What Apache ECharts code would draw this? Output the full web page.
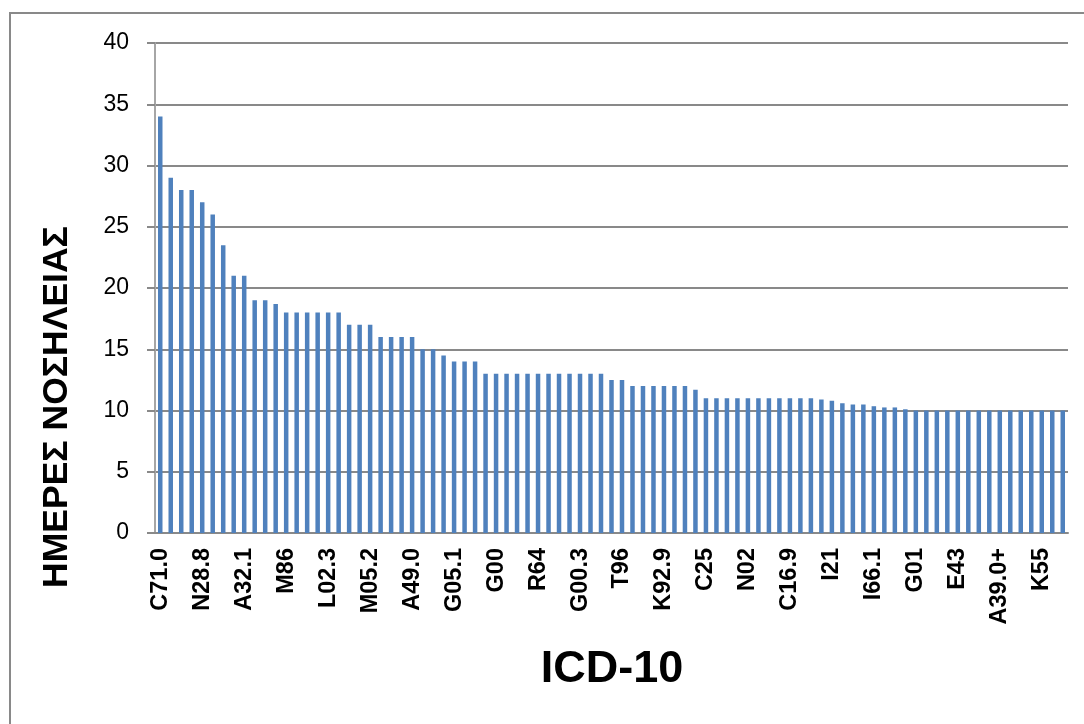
<!DOCTYPE html>
<html>
<head>
<meta charset="utf-8">
<script src="https://cdn.jsdelivr.net/npm/echarts@6/dist/echarts.min.js"></script>
<style>html,body{margin:0;padding:0;background:#fff;}#c{width:1084px;height:724px;}</style>
</head>
<body>
<div id="c"></div>
<script>
// Tick labels shown on the x axis (every 4th category)
var tickLabels = ['C71.0','N28.8','A32.1','M86','L02.3','M05.2','A49.0','G05.1','G00','R64','G00.3','T96','K92.9','C25','N02','C16.9','I21','I66.1','G01','E43','A39.0+','K55'];
// Hospital days per ICD-10 code (87 codes)
var values = [
  34, 29, 28, 28, 27, 26, 23.5, 21, 21, 19, 19, 18.7,
  18, 18, 18, 18, 18, 18,
  17, 17, 17,
  16, 16, 16, 16,
  15, 15, 14.5, 14, 14, 14,
  13, 13, 13, 13, 13, 13, 13, 13, 13, 13, 13, 13,
  12.5, 12.5,
  12, 12, 12, 12, 12, 12, 11.7,
  11, 11, 11, 11, 11, 11, 11, 11, 11, 11, 11,
  10.9, 10.8, 10.6, 10.5, 10.5, 10.35, 10.25, 10.25, 10.1,
  10, 10, 10, 10, 10, 10, 10, 10, 10, 10, 10, 10, 10, 10, 10
];
var categories = values.map(function (v, i) { return (i % 4 === 0 && tickLabels[i / 4]) ? tickLabels[i / 4] : ''; });
var yTitle = 'ΗΜΕΡΕΣ ΝΟΣΗΛΕΙΑΣ';
var xTitle = 'ICD-10';

var chart = echarts.init(document.getElementById('c'), null, {renderer: 'canvas'});
chart.setOption({
  animation: false,
  backgroundColor: '#ffffff',
  grid: {left: 155, right: 16, top: 43, bottom: 191, containLabel: false},
  xAxis: {
    type: 'category',
    data: categories,
    boundaryGap: true,
    axisLine: {show: true, lineStyle: {color: '#898989', width: 2}},
    axisTick: {show: false},
    axisLabel: {
      interval: 3, rotate: 90, margin: 15,
      fontFamily: 'Liberation Sans', fontWeight: 'bold', fontSize: 23.5, color: '#000'
    },
    splitLine: {show: false}
  },
  yAxis: {
    type: 'value',
    min: 0, max: 40, interval: 5,
    axisLine: {show: true, lineStyle: {color: '#a6a6a6', width: 2}},
    axisTick: {show: true, length: 8, lineStyle: {color: '#898989', width: 2}},
    axisLabel: {margin: 26, fontFamily: 'Liberation Sans', fontSize: 23, color: '#000'},
    splitLine: {show: true, lineStyle: {color: '#898989', width: 2}}
  },
  series: [{
    type: 'bar',
    data: values,
    barWidth: 4.5,
    itemStyle: {color: '#4f81bd'}
  }],
  graphic: [
    {type: 'rect', shape: {x: 10, y: 13, width: 1300, height: 1000}, style: {fill: 'none', stroke: '#898989', lineWidth: 2}, silent: true, z: -10},
    {type: 'text', x: 57, y: 407, rotation: Math.PI / 2,
     style: {text: yTitle, fontFamily: 'Liberation Sans', fontWeight: 'bold', fontSize: 35.5, fill: '#000', align: 'center', verticalAlign: 'middle'}},
    {type: 'text', x: 612, y: 670,
     style: {text: xTitle, fontFamily: 'Liberation Sans', fontWeight: 'bold', fontSize: 45, fill: '#000', align: 'center', verticalAlign: 'middle'}}
  ]
});
</script>
</body>
</html>
